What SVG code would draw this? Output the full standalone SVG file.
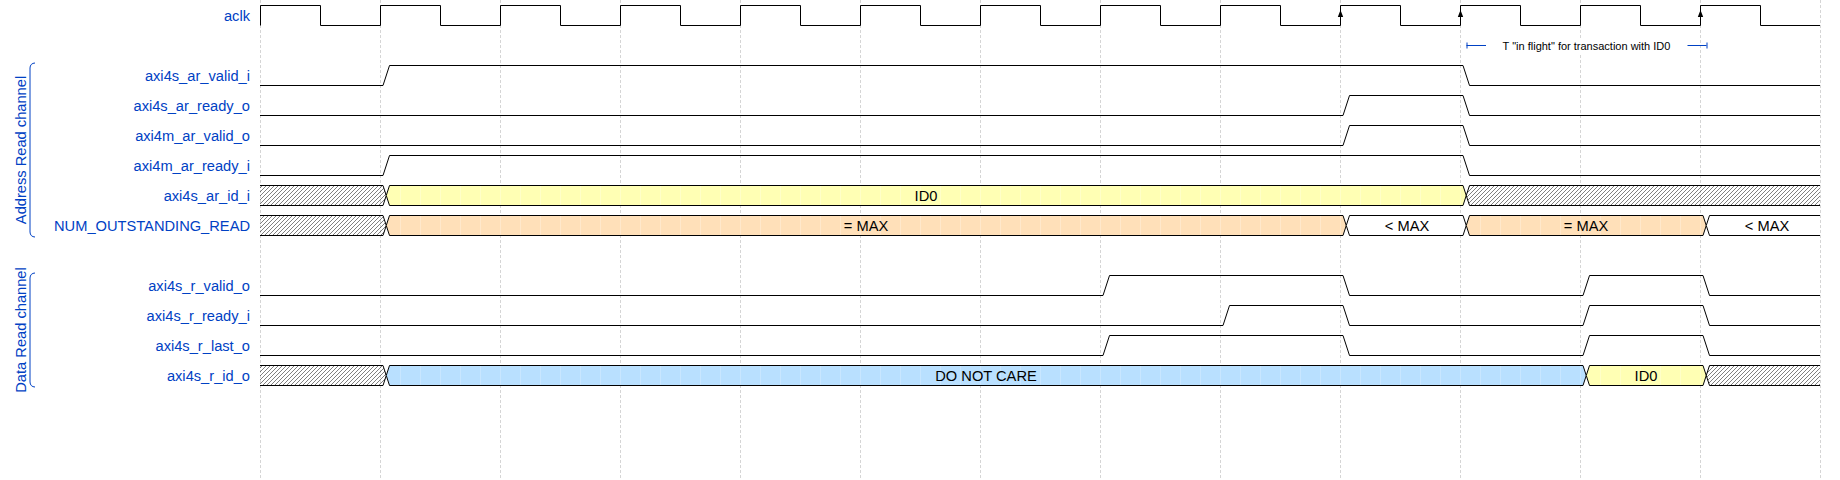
<svg xmlns="http://www.w3.org/2000/svg" width="1840" height="480" viewBox="0 0 1840 480">
<style>
.lbl{font-family:"Liberation Sans",Arial,sans-serif;font-size:14.67px;fill:#0041c4;text-anchor:end}
.grp{font-family:"Liberation Sans",Arial,sans-serif;font-size:14.67px;fill:#0041c4;text-anchor:middle}
.dat{font-family:"Liberation Sans",Arial,sans-serif;font-size:14.67px;fill:#000;text-anchor:middle}
.w{fill:none;stroke:#000;stroke-width:1}
.b{stroke:#000;stroke-width:1}
.grid{stroke:#aaa;stroke-width:0.5;stroke-dasharray:3,2}
.br{fill:none;stroke:#0041c4;stroke-width:1}
.edge{fill:none;stroke:#0041c4;stroke-width:1}
.etxt{font-family:"Liberation Sans",Arial,sans-serif;font-size:11px;fill:#000;text-anchor:middle}
</style>
<defs>
<pattern id="hatch" width="4" height="4" patternUnits="userSpaceOnUse"><path d="M-1,1 L1,-1 M0,4 L4,0 M3,5 L5,3" stroke="#000" stroke-width="0.5"/></pattern>
<pattern id="pY" width="20" height="480" patternUnits="userSpaceOnUse"><rect width="20" height="480" fill="#ffffb4"/><rect width="1" height="480" fill="#ffffc8"/></pattern>
<pattern id="pO" width="20" height="480" patternUnits="userSpaceOnUse"><rect width="20" height="480" fill="#ffe0b9"/><rect width="1" height="480" fill="#ffe8cb"/></pattern>
<pattern id="pB" width="20" height="480" patternUnits="userSpaceOnUse"><rect width="20" height="480" fill="#b9e0ff"/><rect width="1" height="480" fill="#c8e6ff"/></pattern>
</defs>
<rect width="1840" height="480" fill="#fff"/>
<g id="gridlines">
<path class="grid" d="M260.5,0V480M380.5,0V480M500.5,0V480M620.5,0V480M740.5,0V480M860.5,0V480M980.5,0V480M1100.5,0V480M1220.5,0V480M1340.5,0V480M1460.5,0V480M1580.5,0V480M1700.5,0V480M1820.5,0V480"/>
</g>
<g id="groups">
<g id="group-address">
<path class="br" d="M35,63 c-3,0 -5,2 -5,5 V232 c0,3 2,5 5,5"/>
<text class="grp" transform="translate(25.5,150) rotate(-90)">Address Read channel</text>
</g>
<g id="group-data">
<path class="br" d="M35,273 c-3,0 -5,2 -5,5 V382 c0,3 2,5 5,5"/>
<text class="grp" transform="translate(25.5,330) rotate(-90)">Data Read channel</text>
</g>
</g>
<g id="aclk">
<text class="lbl" x="250" y="20.7">aclk</text>
<path class="w" d="M260.5,25.5V5.5H320.5V25.5H380.5V5.5H440.5V25.5H500.5V5.5H560.5V25.5H620.5V5.5H680.5V25.5H740.5V5.5H800.5V25.5H860.5V5.5H920.5V25.5H980.5V5.5H1040.5V25.5H1100.5V5.5H1160.5V25.5H1220.5V5.5H1280.5V25.5H1340.5V5.5H1400.5V25.5H1460.5V5.5H1520.5V25.5H1580.5V5.5H1640.5V25.5H1700.5V5.5H1760.5V25.5H1820"/>
<path d="M1340.5,10 L1337.8,17 L1343.2,17Z M1460.5,10 L1457.8,17 L1463.2,17Z M1700.5,10 L1697.8,17 L1703.2,17Z" fill="#000"/>
</g>
<g id="axi4s_ar_valid_i">
<text class="lbl" x="250" y="80.7">axi4s_ar_valid_i</text>
<path class="w" d="M260,85.5H383L389.5,65.5H1463L1469.5,85.5H1820"/>
</g>
<g id="axi4s_ar_ready_o">
<text class="lbl" x="250" y="110.7">axi4s_ar_ready_o</text>
<path class="w" d="M260,115.5H1343L1349.5,95.5H1463L1469.5,115.5H1820"/>
</g>
<g id="axi4m_ar_valid_o">
<text class="lbl" x="250" y="140.7">axi4m_ar_valid_o</text>
<path class="w" d="M260,145.5H1343L1349.5,125.5H1463L1469.5,145.5H1820"/>
</g>
<g id="axi4m_ar_ready_i">
<text class="lbl" x="250" y="170.7">axi4m_ar_ready_i</text>
<path class="w" d="M260,175.5H383L389.5,155.5H1463L1469.5,175.5H1820"/>
</g>
<g id="axi4s_ar_id_i">
<text class="lbl" x="250" y="200.7">axi4s_ar_id_i</text>
<path class="b" fill="url(#hatch)" d="M260,185.5H383L386.25,195.5L383,205.5H260"/>
<path class="b" fill="url(#pY)" d="M389.5,185.5H1463L1466.25,195.5L1463,205.5H389.5L386.25,195.5Z"/>
<path class="b" fill="url(#hatch)" d="M1820,185.5H1469.5L1466.25,195.5L1469.5,205.5H1820"/>
<text class="dat" x="926" y="200.7">ID0</text>
</g>
<g id="NUM_OUTSTANDING_READ">
<text class="lbl" x="250" y="230.7">NUM_OUTSTANDING_READ</text>
<path class="b" fill="url(#hatch)" d="M260,215.5H383L386.25,225.5L383,235.5H260"/>
<path class="b" fill="url(#pO)" d="M389.5,215.5H1343L1346.25,225.5L1343,235.5H389.5L386.25,225.5Z"/>
<path class="b" fill="#fff" d="M1349.5,215.5H1463L1466.25,225.5L1463,235.5H1349.5L1346.25,225.5Z"/>
<path class="b" fill="url(#pO)" d="M1469.5,215.5H1703L1706.25,225.5L1703,235.5H1469.5L1466.25,225.5Z"/>
<path class="b" fill="#fff" d="M1820,215.5H1709.5L1706.25,225.5L1709.5,235.5H1820"/>
<text class="dat" x="866" y="230.7">= MAX</text>
<text class="dat" x="1407" y="230.7">&lt; MAX</text>
<text class="dat" x="1586" y="230.7">= MAX</text>
<text class="dat" x="1767" y="230.7">&lt; MAX</text>
</g>
<g id="axi4s_r_valid_o">
<text class="lbl" x="250" y="290.7">axi4s_r_valid_o</text>
<path class="w" d="M260,295.5H1103L1109.5,275.5H1343L1349.5,295.5H1583L1589.5,275.5H1703L1709.5,295.5H1820"/>
</g>
<g id="axi4s_r_ready_i">
<text class="lbl" x="250" y="320.7">axi4s_r_ready_i</text>
<path class="w" d="M260,325.5H1223L1229.5,305.5H1343L1349.5,325.5H1583L1589.5,305.5H1703L1709.5,325.5H1820"/>
</g>
<g id="axi4s_r_last_o">
<text class="lbl" x="250" y="350.7">axi4s_r_last_o</text>
<path class="w" d="M260,355.5H1103L1109.5,335.5H1343L1349.5,355.5H1583L1589.5,335.5H1703L1709.5,355.5H1820"/>
</g>
<g id="axi4s_r_id_o">
<text class="lbl" x="250" y="380.7">axi4s_r_id_o</text>
<path class="b" fill="url(#hatch)" d="M260,365.5H383L386.25,375.5L383,385.5H260"/>
<path class="b" fill="url(#pB)" d="M389.5,365.5H1583L1586.25,375.5L1583,385.5H389.5L386.25,375.5Z"/>
<path class="b" fill="url(#pY)" d="M1589.5,365.5H1703L1706.25,375.5L1703,385.5H1589.5L1586.25,375.5Z"/>
<path class="b" fill="url(#hatch)" d="M1820,365.5H1709.5L1706.25,375.5L1709.5,385.5H1820"/>
<text class="dat" x="986" y="380.7">DO NOT CARE</text>
<text class="dat" x="1646" y="380.7">ID0</text>
</g>
<g id="connectors">
<path class="edge" d="M1466.5,45.5H1706.5"/>
<path class="edge" d="M1467,42.5V48.5M1707,42.5V48.5"/>
<rect x="1486" y="38" width="201.5" height="15" fill="#fff"/>
<text class="etxt" x="1586.5" y="49.5">T "in flight" for transaction with ID0</text>
</g>
</svg>
